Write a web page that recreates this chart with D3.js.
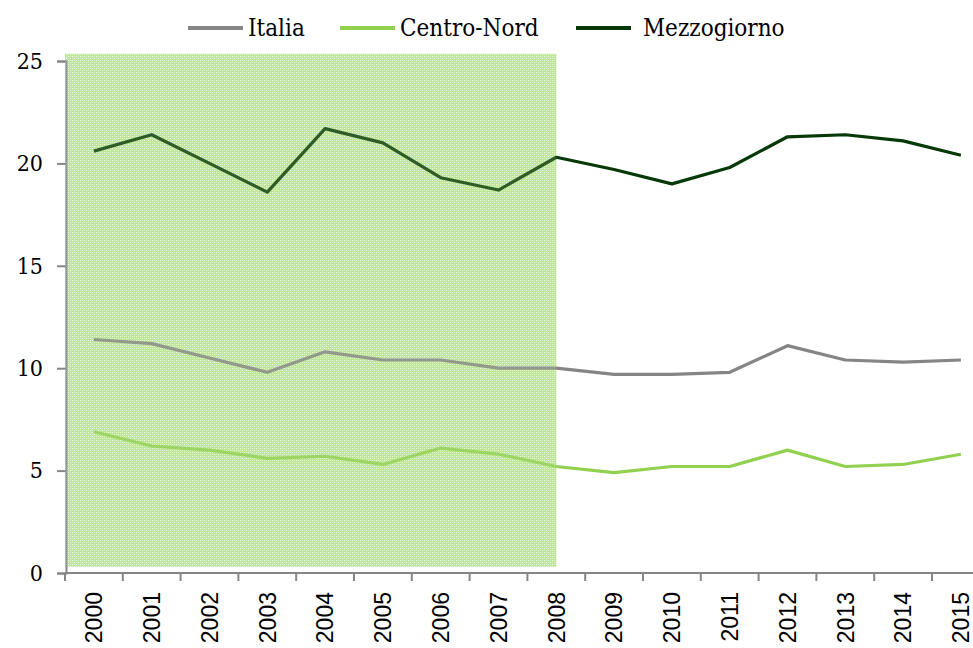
<!DOCTYPE html>
<html lang="it">
<head>
<meta charset="utf-8">
<style>
body {
  margin: 0;
  background: #fff;
}
.legendText {
  font-family: 'DejaVu Serif Condensed', 'DejaVu Serif', serif;
  font-stretch: condensed;
  font-size: 24px;
  fill: #000;
}
.yLabel {
  font-family: 'DejaVu Serif Condensed', 'DejaVu Serif', serif;
  font-stretch: condensed;
  font-size: 23px;
  fill: #000;
}
.xLabel {
  font-family: 'Liberation Sans', Arial, sans-serif;
  font-size: 23px;
  fill: #000;
}
</style>
<title>Italia, Centro-Nord, Mezzogiorno</title>
<script src="https://cdn.jsdelivr.net/npm/d3@7"></script>
</head>
<body>
<div id="chart"></div>
<script>

var years = ["2000","2001","2002","2003","2004","2005","2006","2007",
             "2008","2009","2010","2011","2012","2013","2014","2015"];

var italia      = [11.4, 11.2, 10.5, 9.8, 10.8, 10.4, 10.4, 10.0, 10.0, 9.7, 9.7, 9.8, 11.1, 10.4, 10.3, 10.4];
var centroNord  = [6.9, 6.2, 6.0, 5.6, 5.7, 5.3, 6.1, 5.8, 5.2, 4.9, 5.2, 5.2, 6.0, 5.2, 5.3, 5.8];
var mezzogiorno = [20.6, 21.4, 20.0, 18.6, 21.7, 21.0, 19.3, 18.7, 20.3, 19.7, 19.0, 19.8, 21.3, 21.4, 21.1, 20.4];

var seriesNames = ["Italia", "Centro-Nord", "Mezzogiorno"];
var yTicks = [0, 5, 10, 15, 20, 25];

// shaded period (years) and its vertical extent (in value units)
var shadeYears = ["2000", "2008"];
var shadeRange = [0.3, 25.35];

var w = 973,
    h = 648;

var colors = {"Italia": "#858585", "Centro-Nord": "#92d050", "Mezzogiorno": "#073807"};

var svg = d3.select("#chart")
            .append("svg")
            .attr("width", w)
            .attr("height", h);

var x = d3.scaleBand()
          .domain(years)
          .range([65, 65 + 16 * 57.8]);

var y = d3.scaleLinear()
          .domain([0, 25])
          .range([573, 61]);

// pattern for the shaded area
var defs = svg.append("defs");
var pat = defs.append("pattern")
              .attr("id", "dots")
              .attr("width", 4)
              .attr("height", 4)
              .attr("patternUnits", "userSpaceOnUse");
pat.append("rect").attr("width", 4).attr("height", 4).attr("fill", "#bfe598");
pat.append("rect").attr("x", 0).attr("y", 0).attr("width", 1).attr("height", 1).attr("fill", "#eef9e2");
pat.append("rect").attr("x", 2).attr("y", 2).attr("width", 1).attr("height", 1).attr("fill", "#eef9e2");
pat.append("rect").attr("x", 2).attr("y", 0).attr("width", 1).attr("height", 1).attr("fill", "#d6f0bc");
pat.append("rect").attr("x", 0).attr("y", 2).attr("width", 1).attr("height", 1).attr("fill", "#d6f0bc");

var shadeX0 = x(shadeYears[0]),
    shadeX1 = x(shadeYears[1]) + x.bandwidth() / 2;

function drawShade(op) {
  svg.append("rect")
     .attr("class", "shade")
     .attr("x", shadeX0)
     .attr("y", y(shadeRange[1]))
     .attr("width", shadeX1 - shadeX0)
     .attr("height", y(shadeRange[0]) - y(shadeRange[1]))
     .attr("fill", "url(#dots)")
     .attr("opacity", op);
}

drawShade(1);

// y axis
var yAxis = svg.append("g")
               .attr("transform", "translate(" + 66 + ",0)")
               .call(d3.axisLeft(y).tickValues(yTicks).tickSize(9).tickPadding(14).tickFormat(d3.format("d")));
yAxis.select(".domain").attr("stroke", "#868686").attr("stroke-width", 2);
yAxis.selectAll(".tick line").attr("stroke", "#868686").attr("stroke-width", 2);
yAxis.selectAll("text").attr("class", "yLabel").attr("font-family", null).attr("font-size", null).attr("dy", "0.32em");

// x axis
var xAxisG = svg.append("g").attr("transform", "translate(0," + y(0) + ")");
xAxisG.append("line")
      .attr("x1", x.range()[0]).attr("x2", x.range()[1])
      .attr("stroke", "#868686").attr("stroke-width", 2);
xAxisG.selectAll(".xtick")
      .data(years)
      .enter()
      .append("line")
      .attr("x1", function(d){ return x(d); })
      .attr("x2", function(d){ return x(d); })
      .attr("y1", 0).attr("y2", 8)
      .attr("stroke", "#868686").attr("stroke-width", 2);
xAxisG.selectAll(".xLabel")
      .data(years)
      .enter()
      .append("text")
      .attr("class", "xLabel")
      .attr("text-anchor", "end")
      .attr("transform", function(d){
        return "translate(" + (x(d) + x.bandwidth() / 2) + ",19)rotate(-90)";
      })
      .attr("dy", "0.36em")
      .text(function(d){ return d; });

// lines
var allSeries = [italia, centroNord, mezzogiorno];
var line = d3.line()
             .x(function(d, i){ return x(years[i]) + x.bandwidth() / 2; })
             .y(function(d){ return y(d); });

allSeries.forEach(function(vals, k){
  svg.append("path")
     .datum(vals)
     .attr("d", line)
     .attr("fill", "none")
     .attr("stroke", colors[seriesNames[k]])
     .attr("stroke-width", 3.2)
     .attr("stroke-linejoin", "round");
});

// shade over the lines, semi transparent
drawShade(0.2);

// legend
var legendPos = [188, 340, 576];
var legend = svg.selectAll(".legendItem")
                .data(seriesNames)
                .enter()
                .append("g")
                .attr("transform", function(d, i){ return "translate(" + legendPos[i] + ",28)"; });
legend.append("line")
      .attr("x1", 0).attr("x2", 55)
      .attr("stroke", function(d){ return colors[d]; })
      .attr("stroke-width", 4);
legend.append("text")
      .attr("class", "legendText")
      .attr("x", function(d, i){ return i == 2 ? 67 : 60; })
      .attr("dy", "0.35em")
      .text(function(d){ return d; });

</script>
</body>
</html>
